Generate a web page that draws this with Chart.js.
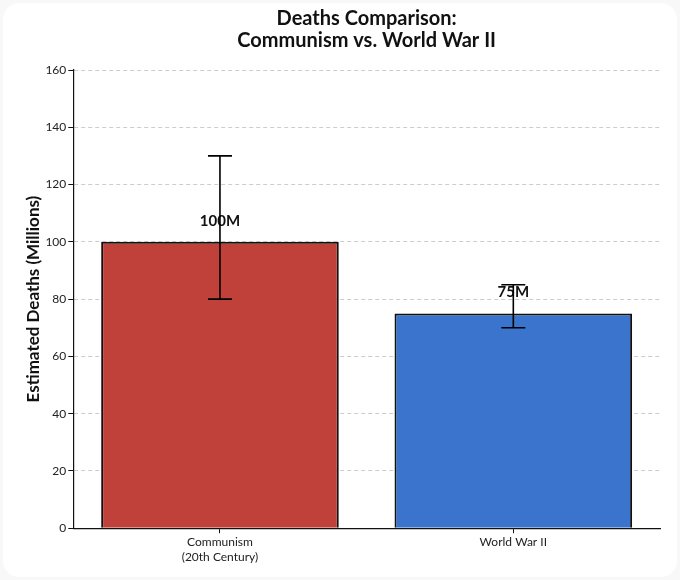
<!DOCTYPE html>
<html>
<head>
<meta charset="utf-8">
<script src="https://cdn.jsdelivr.net/npm/chart.js@4.4.0/dist/chart.umd.min.js"></script>
<style>
  html, body { margin: 0; padding: 0; background: #f8f8f8; }
  .card { position: absolute; left: 3px; top: 3px; width: 674px; height: 574px; background: #fff; border-radius: 16px; }
  .wrap { position: absolute; left: 0; top: 0; width: 680px; height: 580px; }
</style>
</head>
<body>
<div class="card"></div>
<div class="wrap"><canvas id="deathsChart"></canvas></div>
<script>
const categories = [['Communism', '(20th Century)'], 'World War II'];
const deaths = [100, 75];
const errLow = [80, 70];
const errHigh = [130, 85];
const valueLabels = ['100M', '75M'];
const barColors = ['#c0403a', '#3a74cc'];
const titleLines = ['Deaths Comparison:', 'Communism vs. World War II'];

const FONT = 'Lato';

// title centred over the plot area rather than the whole canvas
const axesTitlePlugin = {
    id: 'axesTitle',
    afterDraw(chart) {
        const ctx = chart.ctx;
        const area = chart.chartArea;
        const cx = (area.left + area.right) / 2;
        ctx.save();
        ctx.font = 'bold 20px ' + FONT;
        ctx.fillStyle = '#111';
        ctx.textAlign = 'center';
        ctx.textBaseline = 'middle';
        titleLines.forEach((line, i) => ctx.fillText(line, cx, 19 + i * 22));
        ctx.restore();
    }
};

// value labels above each bar (drawn first so error bars sit on top)
const valueLabelPlugin = {
    id: 'valueLabels',
    afterDatasetsDraw(chart) {
        const ctx = chart.ctx;
        const meta = chart.getDatasetMeta(0);
        const y = chart.scales.y;
        ctx.save();
        ctx.font = 'bold 15px ' + FONT;
        ctx.fillStyle = '#111';
        ctx.textAlign = 'center';
        ctx.textBaseline = 'bottom';
        meta.data.forEach((bar, i) => {
            ctx.fillText(valueLabels[i], bar.x, y.getPixelForValue(deaths[i] + 5) + 1);
        });
        ctx.restore();
    }
};

const errorBarPlugin = {
    id: 'errorBars',
    afterDatasetsDraw(chart) {
        const ctx = chart.ctx;
        const meta = chart.getDatasetMeta(0);
        const y = chart.scales.y;
        ctx.save();
        ctx.strokeStyle = '#000';
        ctx.lineWidth = 1.6;
        meta.data.forEach((bar, i) => {
            const lo = y.getPixelForValue(errLow[i]);
            const hi = y.getPixelForValue(errHigh[i]);
            ctx.beginPath();
            ctx.moveTo(bar.x, lo); ctx.lineTo(bar.x, hi);
            ctx.moveTo(bar.x - 12, lo); ctx.lineTo(bar.x + 12, lo);
            ctx.moveTo(bar.x - 12, hi); ctx.lineTo(bar.x + 12, hi);
            ctx.stroke();
        });
        ctx.restore();
    }
};

const ctx = document.getElementById('deathsChart').getContext('2d');
const deathsChart = new Chart(ctx, {
    type: 'bar',
    data: {
        labels: categories,
        datasets: [{
            data: deaths,
            backgroundColor: barColors,
            borderColor: '#111',
            borderWidth: 2,
            categoryPercentage: 1.0,
            barPercentage: 0.81
        }]
    },
    options: {
        responsive: true,
        maintainAspectRatio: false,
        animation: false,
        layout: { padding: { left: 19, right: 20, top: 70, bottom: 14 } },
        plugins: {
            legend: { display: false },
            tooltip: { enabled: false },
            title: { display: false }
        },
        scales: {
            x: {
                border: { display: true, color: '#111', width: 1.2 },
                grid: { offset: false, drawOnChartArea: false, drawTicks: true, tickLength: 5, tickColor: '#111' },
                ticks: { color: '#222', font: { family: FONT, size: 12 }, padding: 2 }
            },
            y: {
                min: 0,
                max: 160,
                border: {
                    display: true, color: '#111', width: 1.2,
                    // dashed grid lines, solid axis line
                    dash: (c) => c.type === 'tick' ? [4, 3] : []
                },
                grid: {
                    color: '#cccccc',
                    tickLength: 5,
                    tickColor: '#111',
                    tickBorderDash: []
                },
                ticks: { stepSize: 20, color: '#222', font: { family: FONT, size: 12 }, padding: 2 },
                title: {
                    display: true,
                    text: 'Estimated Deaths (Millions)',
                    color: '#111',
                    font: { family: FONT, size: 17, weight: 'bold' },
                    padding: { bottom: 0 }
                }
            }
        }
    },
    plugins: [valueLabelPlugin, errorBarPlugin, axesTitlePlugin]
});
</script>
</body>
</html>
